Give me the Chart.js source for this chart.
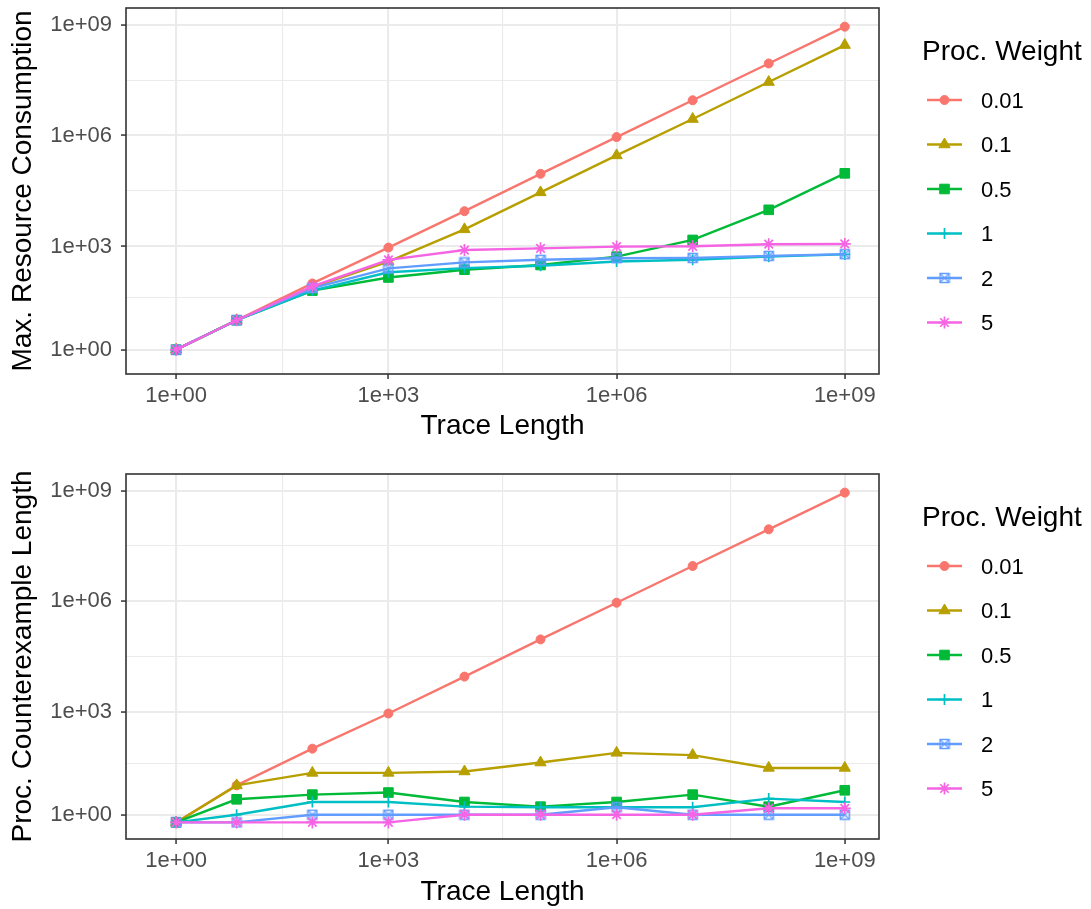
<!DOCTYPE html>
<html>
<head>
<meta charset="utf-8">
<script src="https://cdn.jsdelivr.net/npm/chart.js@4.4.1/dist/chart.umd.min.js"></script>
<style>
  body { margin: 0; background: #fff; }
  #wrap { position: relative; width: 1091px; height: 909px; background: #fff; }
  canvas { position: absolute; left: 0; }
</style>
</head>
<body>
<div id="wrap">
  <canvas id="top" width="1091" height="443" style="top:0"></canvas>
  <canvas id="bottom" width="1091" height="443" style="top:466px"></canvas>
</div>
<script>
// data
const traceLength = [1, 10, 100, 1e3, 1e4, 1e5, 1e6, 1e7, 1e8, 1e9];
const weights = ['0.01', '0.1', '0.5', '1', '2', '5'];
const axisTicks = [1, 1e3, 1e6, 1e9];

// Max. Resource Consumption
const res001 = [1, 10, 100, 930, 9000, 9.2e4, 9.1e5, 9e6, 8.9e7, 8.8e8];
const res01  = [1, 10, 80, 390, 2900, 2.9e4, 2.9e5, 2.8e6, 2.8e7, 2.8e8];
const res05  = [1, 10, 64, 145, 235, 315, 530, 1500, 9800, 9.5e4];
const res1   = [1, 10, 64, 200, 260, 300, 390, 435, 530, 610];
const res2   = [1, 10, 75, 255, 370, 435, 480, 490, 555, 620];
const res5   = [1, 10, 83, 435, 800, 890, 990, 1010, 1150, 1170];

// Proc. Counterexample Length
const cex001 = [0, 10, 100, 900, 9000, 9.2e4, 9.1e5, 9e6, 8.9e7, 8.8e8];
const cex01  = [0, 10, 22, 22, 24, 42, 77, 67, 30, 30];
const cex05  = [0, 4, 5.5, 6.3, 3.3, 2.3, 3.3, 5.5, 2.3, 7.3];
const cex1   = [0, 1, 3.3, 3.3, 2.3, 2.2, 2.2, 2.2, 4.2, 3.3];
const cex2   = [0, 0, 1, 1, 1, 1, 2.2, 1, 1, 1];
const cex5   = [0, 0, 0, 0, 1, 1, 1, 1, 2, 2];

const palette = ['#F8766D', '#B79F00', '#00BA38', '#00BFC4', '#619CFF', '#F564E3'];
const FONT = '"Liberation Sans", Arial, sans-serif';

// pseudo-log transform (sigma 1, base 10), like ggplot's pseudo_log_trans
const LN10 = Math.log(10);
const fwd = v => Math.asinh(v / 2) / LN10;
const inv = t => 2 * Math.sinh(t * LN10);

class PseudoLogScale extends Chart.LinearScale {
  static id = 'pseudoLog';
  buildTicks() {
    const ticks = [];
    for (let i = 0; i < axisTicks.length; i++) {
      ticks.push({ value: axisTicks[i] });
      if (i < axisTicks.length - 1) {
        ticks.push({ value: inv((fwd(axisTicks[i]) + fwd(axisTicks[i + 1])) / 2), minor: true });
      }
    }
    return ticks;
  }
  configure() {
    super.configure();
    this._startValue = fwd(this.min);
    this._valueRange = fwd(this.max) - fwd(this.min);
  }
  getPixelForValue(value) {
    if (value === null || value === undefined || isNaN(value)) return NaN;
    return this.getPixelForDecimal((fwd(value) - this._startValue) / this._valueRange);
  }
  getValueForPixel(pixel) {
    return inv(this._startValue + this.getDecimalForPixel(pixel) * this._valueRange);
  }
}
Chart.register(PseudoLogScale);

// square with an X, like ggplot shape 7
function boxX(color) {
  const c = document.createElement('canvas');
  c.width = 12; c.height = 12;
  const g = c.getContext('2d');
  g.strokeStyle = color;
  g.lineWidth = 1.5;
  g.strokeRect(1.5, 1.5, 9, 9);
  g.lineWidth = 1.1;
  g.beginPath();
  g.moveTo(1.5, 1.5); g.lineTo(10.5, 10.5);
  g.moveTo(10.5, 1.5); g.lineTo(1.5, 10.5);
  g.stroke();
  return c;
}

const markers = [
  { style: 'circle', radius: 4.5, bw: 1 },
  { style: 'triangle', radius: 6.5, bw: 1 },
  { style: 'rect', radius: 6.8, bw: 1 },
  { style: 'cross', radius: 5.5, bw: 1.7 },
  { style: boxX(palette[4]), radius: 6, bw: 1 },
  { style: 'star', radius: 6, bw: 1.7 }
];

function fmt(v) {
  const e = Math.round(Math.log10(v));
  return '1e+' + String(e).padStart(2, '0');
}

function axis(title, isX, size) {
  return {
    type: 'pseudoLog',
    min: inv(-0.45),
    max: inv(9.45),
    border: { display: false },
    grid: {
      color: '#EBEBEB',
      lineWidth: c => (c.tick && c.tick.minor) ? 1.1 : 2.1,
      tickLength: 5,
      tickWidth: 1.5,
      tickColor: c => (c.tick && c.tick.minor) ? 'rgba(0,0,0,0)' : '#333333'
    },
    ticks: {
      autoSkip: false,
      maxRotation: 0,
      color: '#4D4D4D',
      padding: isX ? 4 : 9,
      font: { family: FONT, size: 22 },
      callback: (v, i, ticks) => ticks[i].minor ? '' : fmt(v)
    },
    title: {
      display: true,
      text: title,
      color: '#000',
      font: { family: FONT, size: 28 },
      padding: isX ? { top: 0, bottom: 0 } : { top: 6, bottom: 0 }
    },
    afterFit: s => {
      if (isX) s.height = size; else s.width = size;
      s.paddingTop = 0; s.paddingBottom = 0; s.paddingLeft = 0; s.paddingRight = 0;
    }
  };
}

const panelBorder = {
  id: 'panelBorder',
  afterDatasetsDraw(chart) {
    const { ctx, chartArea: a } = chart;
    ctx.save();
    ctx.strokeStyle = '#333333';
    ctx.lineWidth = 1.6;
    ctx.strokeRect(a.left, a.top, a.right - a.left, a.bottom - a.top);
    ctx.restore();
  }
};

const ggLegend = {
  id: 'ggLegend',
  afterDraw(chart) {
    const { ctx, chartArea: a } = chart;
    ctx.save();
    ctx.textAlign = 'left';
    ctx.textBaseline = 'alphabetic';
    ctx.fillStyle = '#000';
    ctx.font = '28px ' + FONT;
    ctx.fillText('Proc. Weight', 922, a.top + 52);
    chart.data.datasets.forEach((ds, i) => {
      const y = a.top + 92 + i * 44.5;
      ctx.strokeStyle = ds.borderColor;
      ctx.lineWidth = 2.4;
      ctx.beginPath();
      ctx.moveTo(927, y);
      ctx.lineTo(962, y);
      ctx.stroke();
      ctx.fillStyle = ds.pointBackgroundColor;
      ctx.lineWidth = ds.pointBorderWidth;
      Chart.helpers.drawPoint(ctx, {
        pointStyle: ds.pointStyle, radius: ds.pointRadius, rotation: 0, borderWidth: ds.pointBorderWidth
      }, 944.5, y);
      ctx.fillStyle = '#000';
      ctx.font = '22px ' + FONT;
      ctx.fillText(ds.label, 981, y + 7.9);
    });
    ctx.restore();
  }
};

function makeChart(id, yTitle, series, xHeight) {
  return new Chart(document.getElementById(id), {
    type: 'line',
    data: {
      datasets: series.map((vals, i) => ({
        label: weights[i],
        data: traceLength.map((x, j) => ({ x: x, y: vals[j] })),
        borderColor: palette[i],
        backgroundColor: palette[i],
        pointBackgroundColor: palette[i],
        pointBorderColor: palette[i],
        pointStyle: markers[i].style,
        pointRadius: markers[i].radius,
        pointHoverRadius: markers[i].radius,
        pointBorderWidth: markers[i].bw,
        borderWidth: 2.4,
        tension: 0,
        fill: false,
        order: series.length - i
      }))
    },
    options: {
      responsive: false,
      animation: false,
      devicePixelRatio: 1,
      layout: { padding: { top: 8, right: 212, left: 0, bottom: 0 } },
      plugins: { legend: { display: false }, tooltip: { enabled: false } },
      scales: {
        x: axis('Trace Length', true, xHeight),
        y: axis(yTitle, false, 126)
      }
    },
    plugins: [panelBorder, ggLegend]
  });
}

makeChart('top', 'Max. Resource Consumption', [res001, res01, res05, res1, res2, res5], 69);
makeChart('bottom', 'Proc. Counterexample Length', [cex001, cex01, cex05, cex1, cex2, cex5], 70);
</script>
</body>
</html>
